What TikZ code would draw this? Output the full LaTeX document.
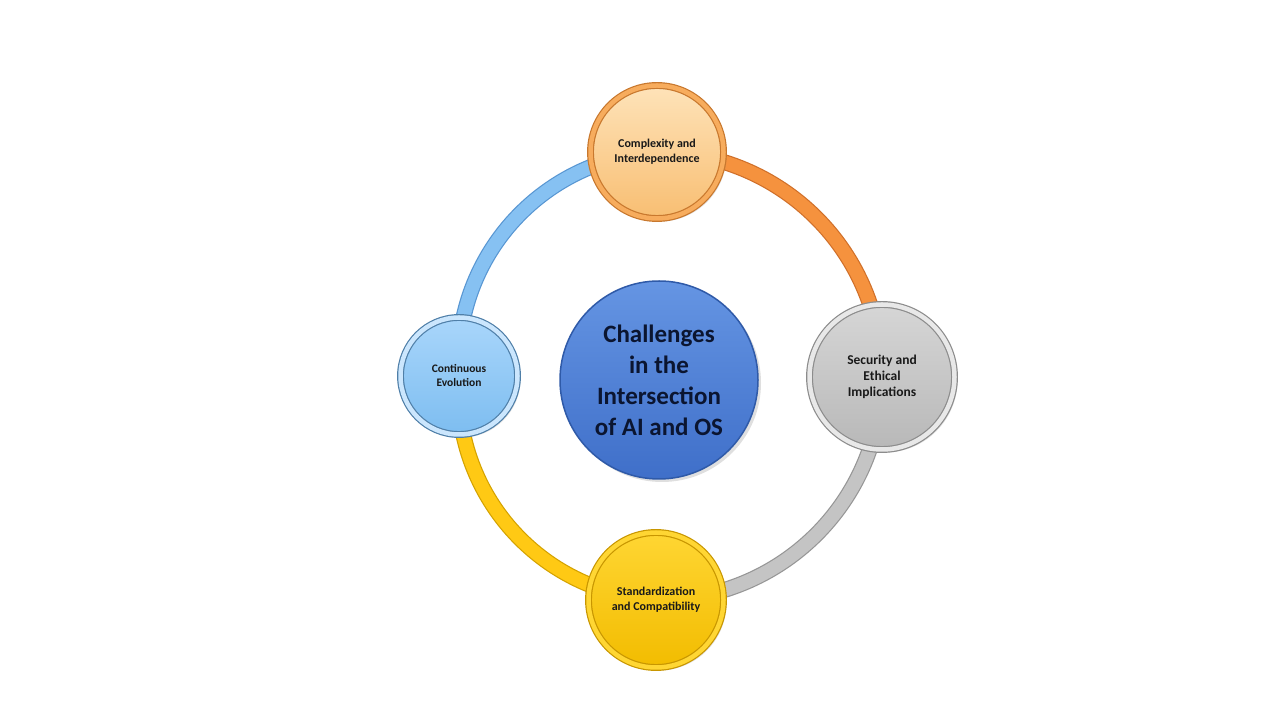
\documentclass[tikz,border=0pt]{standalone}
\usepackage{fontspec}
\setmainfont{Carlito}
\usepackage{tikz}
\usetikzlibrary{shadows, backgrounds}
\definecolor{evofill}{RGB}{134, 193, 242}
\definecolor{evoedge}{RGB}{88, 150, 210}
\definecolor{evotop}{RGB}{169, 214, 251}
\definecolor{evobot}{RGB}{125, 189, 240}
\definecolor{evorim}{RGB}{79, 127, 168}
\definecolor{cpxfill}{RGB}{245, 146, 62}
\definecolor{cpxedge}{RGB}{208, 112, 42}
\definecolor{cpxtop}{RGB}{254, 227, 185}
\definecolor{cpxbot}{RGB}{248, 190, 114}
\definecolor{cpxrim}{RGB}{200, 120, 46}
\definecolor{secfill}{RGB}{196, 196, 196}
\definecolor{secedge}{RGB}{150, 150, 150}
\definecolor{sectop}{RGB}{214, 214, 214}
\definecolor{secbot}{RGB}{184, 184, 184}
\definecolor{secrim}{RGB}{140, 140, 140}
\definecolor{stdfill}{RGB}{255, 201, 20}
\definecolor{stdedge}{RGB}{212, 162, 0}
\definecolor{stdtop}{RGB}{255, 214, 51}
\definecolor{stdbot}{RGB}{242, 188, 0}
\definecolor{stdrim}{RGB}{200, 150, 0}
\definecolor{hubtop}{RGB}{101, 149, 227}
\definecolor{hubbot}{RGB}{63, 111, 201}
\definecolor{hubrim}{RGB}{47, 90, 168}
\definecolor{hubtext}{RGB}{11, 21, 48}

\begin{document}
\begin{tikzpicture}[x=1pt, y=1pt,
  topic/.style={circle, inner sep=0pt, align=center, text=black!90,
    font=\bfseries\fontsize{12}{15}\selectfont, line width=1.2pt, double distance=4.5pt,
    drop shadow={opacity=0.25, shadow xshift=3pt, shadow yshift=-3pt}},
  band/.style={line width=1.2pt, double distance=13.5pt}]
  \useasboundingbox (0,0) rectangle (1280,720);

  % centre
  \node[circle, inner sep=0pt, minimum size=198, align=center, draw=hubrim, line width=1.5pt,
        top color=hubtop, bottom color=hubbot, text=hubtext,
        font=\bfseries\fontsize{25}{31}\selectfont,
        drop shadow={opacity=0.25, shadow xshift=3pt, shadow yshift=-3pt}]
    (hub) at (659,340) {Challenges\\in the\\Intersection\\of AI and OS};

  % topics round the ring
  \node[topic, minimum size=133, draw=cpxrim, double=cpxbot!60!cpxfill, top color=cpxtop, bottom color=cpxbot]
    (complexity) at (657,568) {Complexity and\\Interdependence};
  \node[topic, minimum size=145, draw=secrim, double=white!80!secrim, top color=sectop, bottom color=secbot,
        font=\bfseries\fontsize{13.5}{16}\selectfont]
    (security) at (882,343) {Security and\\Ethical\\Implications};
  \node[topic, minimum size=135, draw=stdrim, double=stdtop, top color=stdtop, bottom color=stdbot]
    (standard) at (656,120) {Standardization\\and Compatibility};
  \node[topic, minimum size=117, draw=evorim, double=evotop!60!white, top color=evotop, bottom color=evobot,
        font=\bfseries\fontsize{11.5}{14}\selectfont]
    (evolution) at (459,344) {Continuous\\Evolution};

  % ring
  \begin{scope}[on background layer]
    \draw[band, draw=evoedge, double=evofill] (evolution.center) to[bend left=45] (complexity.center);
    \draw[band, draw=cpxedge, double=cpxfill] (complexity.center) to[bend left=45] (security.center);
    \draw[band, draw=secedge, double=secfill] (security.center) to[bend left=45] (standard.center);
    \draw[band, draw=stdedge, double=stdfill] (standard.center) to[bend left=45] (evolution.center);
  \end{scope}
\end{tikzpicture}
\end{document}
